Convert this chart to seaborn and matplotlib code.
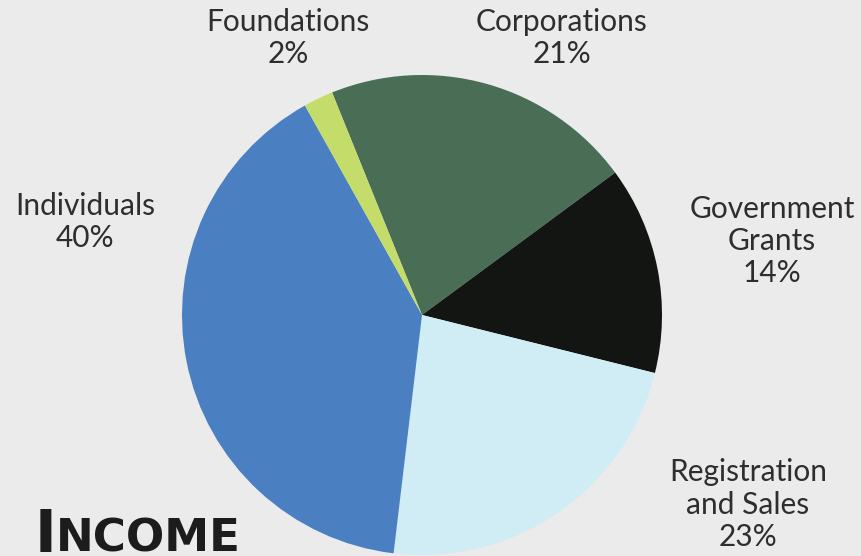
import matplotlib
matplotlib.use("Agg")
import matplotlib.pyplot as plt
import seaborn as sns

sns.set_theme(style="white")
plt.rcParams['font.family'] = ['Lato', 'DejaVu Sans']

# Data
sources = ['Corporations', 'Government\nGrants', 'Registration\nand Sales', 'Individuals', 'Foundations']
shares = [21, 14, 23, 40, 2]
colors = ['#496e55', '#121512', '#d0ecf4', '#4a7fc1', '#c3dc6a']

# label centres in axes data units (pie radius = 1)
label_pos = [(0.583, 1.154), (1.458, 0.308), (1.358, -0.79), (-1.404, 0.388), (-0.558, 1.154)]

bg = '#ebebeb'
fig = plt.figure(figsize=(8.61, 5.56), dpi=100, facecolor=bg)
R = 240
cx, cy = 422, 556 - 315
ax = fig.add_axes([(cx - R) / 861, (cy - R) / 556, 2 * R / 861, 2 * R / 556])
ax.set_facecolor(bg)

wedges, _ = ax.pie(shares, colors=colors, startangle=112, counterclock=False,
                   radius=1, wedgeprops=dict(linewidth=0))
ax.set_xlim(-1, 1)
ax.set_ylim(-1, 1)
ax.set_aspect('equal')
ax.axis('off')

for name, val, (x, y) in zip(sources, shares, label_pos):
    ax.text(x, y, f"{name}\n{val}%", ha='center', va='center', fontsize=21.5,
            color='#2e2e2e', linespacing=1.18, clip_on=False)

# title in small caps
fig.text(35 / 861, 4 / 556, "I", family='DejaVu Sans', fontsize=42, fontweight='bold',
         color='#1c1c1c', va='baseline')
fig.text(56 / 861, 4 / 556, "NCOME", family='DejaVu Sans', fontsize=32.5, fontweight='bold',
         color='#1c1c1c', va='baseline')

fig.savefig('out.png', dpi=100, facecolor=bg)
